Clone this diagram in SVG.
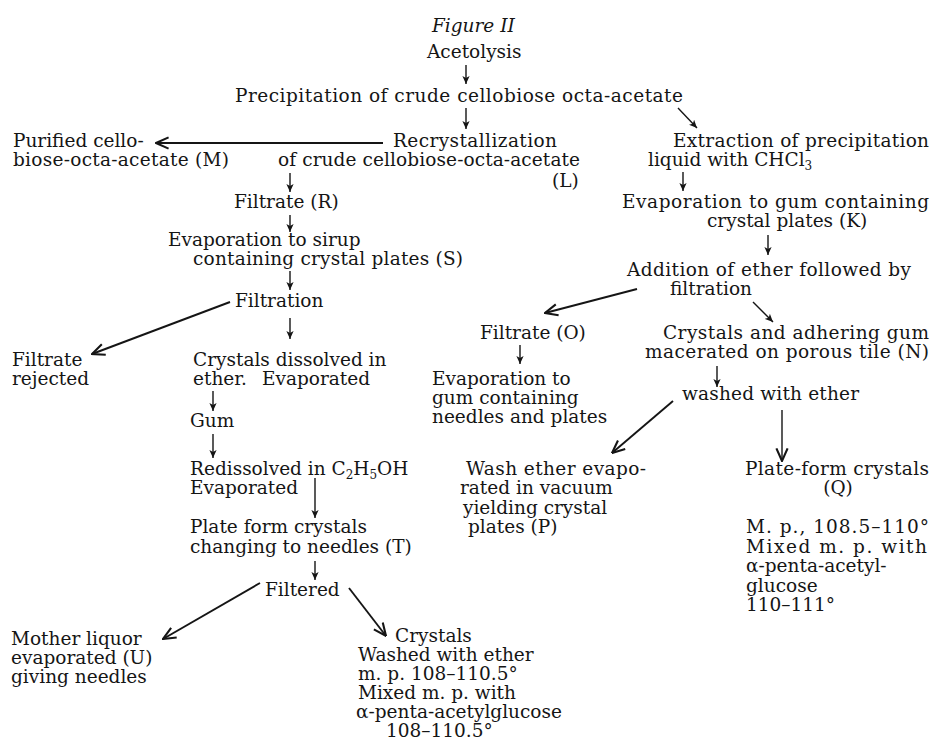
<svg xmlns="http://www.w3.org/2000/svg" width="934" height="743" viewBox="0 0 934 743">
<defs>
<style>
text{font-family:"DejaVu Serif","Liberation Serif",serif;font-size:18.5px;fill:#151515}
.it{font-style:italic}
.c{text-anchor:middle}
.sub{font-size:12px}
#connectors line{stroke:#151515;stroke-width:1.4;fill:none}
#connectors line.big{stroke-width:1.9}
</style>
<marker id="sm" viewBox="0 0 10 10" refX="10" refY="5" markerWidth="8" markerHeight="8" markerUnits="userSpaceOnUse" orient="auto"><path d="M0,0.5 L10,5 L0,9.5 L2.5,5 Z" fill="#151515"/></marker>
<marker id="lg" viewBox="0 0 10 10" refX="9.5" refY="5" markerWidth="14" markerHeight="14" markerUnits="userSpaceOnUse" orient="auto"><path d="M0.5,1 L9.5,5 L0.5,9" fill="none" stroke="#151515" stroke-width="1.5"/></marker>
</defs>
<rect width="934" height="743" fill="#fff"/>

<g id="n-title"><text class="it" x="432" y="32">Figure II</text></g>
<g id="n-acetolysis"><text x="427" y="58">Acetolysis</text></g>
<g id="n-precipitation"><text x="235" y="102" textLength="448">Precipitation of crude cellobiose octa-acetate</text></g>
<g id="n-purified-M"><text x="13" y="147">Purified cello-</text><text x="13" y="166" textLength="216">biose-octa-acetate (M)</text></g>
<g id="n-recryst-L"><text x="393" y="147" textLength="164">Recrystallization</text><text x="278" y="166" textLength="302">of crude cellobiose-octa-acetate</text><text x="552" y="187">(L)</text></g>
<g id="n-extraction"><text x="673" y="147" textLength="256">Extraction of precipitation</text><text x="648" y="166">liquid with CHCl<tspan class="sub" dy="4">3</tspan></text></g>
<g id="n-evap-gum-K"><text x="622" y="208" textLength="307">Evaporation to gum containing</text><text x="707" y="227">crystal plates (K)</text></g>
<g id="n-addition"><text x="627" y="276" textLength="284">Addition of ether followed by</text><text x="670" y="295">filtration</text></g>
<g id="n-filtrate-O"><text x="480" y="339">Filtrate (O)</text></g>
<g id="n-crystals-N"><text x="663" y="339" textLength="266">Crystals and adhering gum</text><text x="645" y="358" textLength="284">macerated on porous tile (N)</text></g>
<g id="n-evap-needles"><text x="432" y="385">Evaporation to</text><text x="432" y="404">gum containing</text><text x="432" y="423">needles and plates</text></g>
<g id="n-washed"><text x="682" y="400" textLength="177">washed with ether</text></g>
<g id="n-wash-P"><text x="466" y="475" textLength="180">Wash ether evapo-</text><text x="460" y="494">rated in vacuum</text><text x="463" y="514">yielding crystal</text><text x="468" y="533">plates (P)</text></g>
<g id="n-plate-Q"><text x="745" y="475" textLength="184">Plate-form crystals</text><text class="c" x="838" y="494">(Q)</text></g>
<g id="n-mp-Q"><text x="746" y="533" textLength="183">M. p., 108.5–110°</text><text x="746" y="553" textLength="181">Mixed m. p. with</text><text x="746" y="572">α-penta-acetyl-</text><text x="746" y="592">glucose</text><text x="746" y="611">110–111°</text></g>
<g id="n-filtrate-R"><text x="234" y="208">Filtrate (R)</text></g>
<g id="n-evap-sirup-S"><text x="168" y="246">Evaporation to sirup</text><text x="193" y="265" textLength="270">containing crystal plates (S)</text></g>
<g id="n-filtration"><text x="235" y="307">Filtration</text></g>
<g id="n-filtrate-rejected"><text x="12" y="366">Filtrate</text><text x="12" y="385">rejected</text></g>
<g id="n-crystals-dissolved"><text x="193" y="366">Crystals dissolved in</text><text x="193" y="385">ether.<tspan x="262">Evaporated</tspan></text></g>
<g id="n-gum"><text x="190" y="427">Gum</text></g>
<g id="n-redissolved"><text x="190" y="475">Redissolved in C<tspan class="sub" dy="4">2</tspan><tspan dy="-4">H</tspan><tspan class="sub" dy="4">5</tspan><tspan dy="-4">OH</tspan></text><text x="190" y="494">Evaporated</text></g>
<g id="n-plate-T"><text x="190" y="533">Plate form crystals</text><text x="190" y="553">changing to needles (T)</text></g>
<g id="n-filtered"><text x="265" y="596">Filtered</text></g>
<g id="n-mother-U"><text x="11" y="645">Mother liquor</text><text x="11" y="664">evaporated (U)</text><text x="11" y="683">giving needles</text></g>
<g id="n-crystals-final"><text x="395" y="642">Crystals</text><text x="358" y="661">Washed with ether</text><text x="358" y="680">m. p. 108–110.5°</text><text x="358" y="699">Mixed m. p. with</text><text x="356" y="718">α-penta-acetylglucose</text><text x="386" y="737">108–110.5°</text></g>

<g id="connectors">
<line x1="466" y1="65" x2="466" y2="84" marker-end="url(#sm)"/>
<line x1="466" y1="108" x2="466" y2="129" marker-end="url(#sm)"/>
<line x1="678" y1="108" x2="697" y2="128" marker-end="url(#sm)"/>
<line class="big" x1="383" y1="143" x2="156" y2="143" marker-end="url(#lg)"/>
<line x1="290" y1="173" x2="290" y2="192" marker-end="url(#sm)"/>
<line x1="683" y1="172" x2="683" y2="191" marker-end="url(#sm)"/>
<line x1="290" y1="215" x2="290" y2="232" marker-end="url(#sm)"/>
<line x1="768" y1="235" x2="768" y2="255" marker-end="url(#sm)"/>
<line x1="290" y1="271" x2="290" y2="290" marker-end="url(#sm)"/>
<line class="big" x1="637" y1="289" x2="545" y2="313" marker-end="url(#lg)"/>
<line x1="753" y1="302" x2="773" y2="322" marker-end="url(#sm)"/>
<line class="big" x1="230" y1="302" x2="92" y2="354" marker-end="url(#lg)"/>
<line x1="290" y1="318" x2="290" y2="339" marker-end="url(#sm)"/>
<line x1="520" y1="345" x2="520" y2="364" marker-end="url(#sm)"/>
<line x1="717" y1="366" x2="717" y2="387" marker-end="url(#sm)"/>
<line x1="213" y1="391" x2="213" y2="411" marker-end="url(#sm)"/>
<line x1="213" y1="434" x2="213" y2="458" marker-end="url(#sm)"/>
<line class="big" x1="673" y1="401" x2="612" y2="453" marker-end="url(#lg)"/>
<line x1="782" y1="410" x2="782" y2="461" marker-end="url(#lg)"/>
<line x1="315" y1="478" x2="315" y2="518" marker-end="url(#sm)"/>
<line x1="315" y1="561" x2="315" y2="580" marker-end="url(#sm)"/>
<line class="big" x1="260" y1="583" x2="163" y2="639" marker-end="url(#lg)"/>
<line class="big" x1="349" y1="588" x2="386" y2="636" marker-end="url(#lg)"/>
</g>
</svg>
